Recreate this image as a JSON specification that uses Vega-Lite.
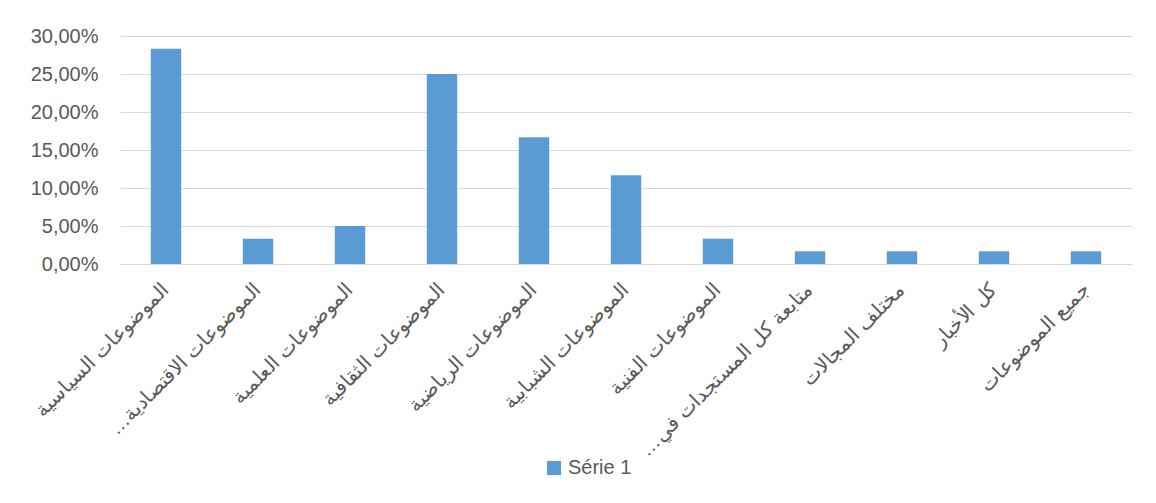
{
  "$schema": "https://vega.github.io/schema/vega-lite/v6.json",
  "background": "white",
  "autosize": {"type": "none"},
  "padding": {"left": 120, "top": 36, "right": 24, "bottom": 239},
  "width": 1012,
  "height": 228,
  "data": {
    "values": [
      {"topic": "الموضوعات السياسية", "share": 0.2833, "series": "Série 1"},
      {"topic": "الموضوعات الاقتصادية…‏", "share": 0.0333, "series": "Série 1"},
      {"topic": "الموضوعات العلمية", "share": 0.05, "series": "Série 1"},
      {"topic": "الموضوعات الثقافية", "share": 0.25, "series": "Série 1"},
      {"topic": "الموضوعات الرياضية", "share": 0.1667, "series": "Série 1"},
      {"topic": "الموضوعات الشبابية", "share": 0.1167, "series": "Série 1"},
      {"topic": "الموضوعات الفنية", "share": 0.0333, "series": "Série 1"},
      {"topic": "متابعة كل المستجدات في…‏", "share": 0.0167, "series": "Série 1"},
      {"topic": "مختلف المجالات", "share": 0.0167, "series": "Série 1"},
      {"topic": "كل الأخبار", "share": 0.0167, "series": "Série 1"},
      {"topic": "جميع الموضوعات", "share": 0.0167, "series": "Série 1"}
    ]
  },
  "mark": {"type": "bar"},
  "encoding": {
    "x": {
      "field": "topic",
      "type": "nominal",
      "sort": null,
      "title": null,
      "scale": {"paddingInner": 0.67, "paddingOuter": 0.335},
      "axis": {
        "labelAngle": -45,
        "labelAlign": "right",
        "labelBaseline": "middle",
        "labelPadding": 22,
        "labelFontSize": 20,
        "labelLimit": 300,
        "ticks": false,
        "domainColor": "#d9d9d9",
        "grid": false
      }
    },
    "y": {
      "field": "share",
      "type": "quantitative",
      "title": null,
      "scale": {"domain": [0, 0.3]},
      "axis": {
        "format": ".2%",
        "values": [0, 0.05, 0.1, 0.15, 0.2, 0.25, 0.3],
        "domain": false,
        "ticks": false,
        "labelFontSize": 20,
        "labelPadding": 22,
        "gridColor": "#d9d9d9"
      }
    },
    "color": {
      "field": "series",
      "type": "nominal",
      "title": null,
      "scale": {"range": ["#5b9bd5"]},
      "legend": {
        "orient": "none",
        "legendX": 424,
        "legendY": 422,
        "symbolType": "square",
        "symbolSize": 200,
        "symbolOpacity": 1,
        "labelFontSize": 20,
        "labelOffset": 4
      }
    }
  },
  "config": {
    "locale": {
      "number": {"decimal": ",", "thousands": " ", "grouping": [3], "currency": ["", " €"]}
    },
    "view": {"stroke": null},
    "axis": {"labelFont": "Liberation Sans", "labelColor": "#595959"},
    "legend": {"labelFont": "Liberation Sans", "labelColor": "#595959"}
  }
}
